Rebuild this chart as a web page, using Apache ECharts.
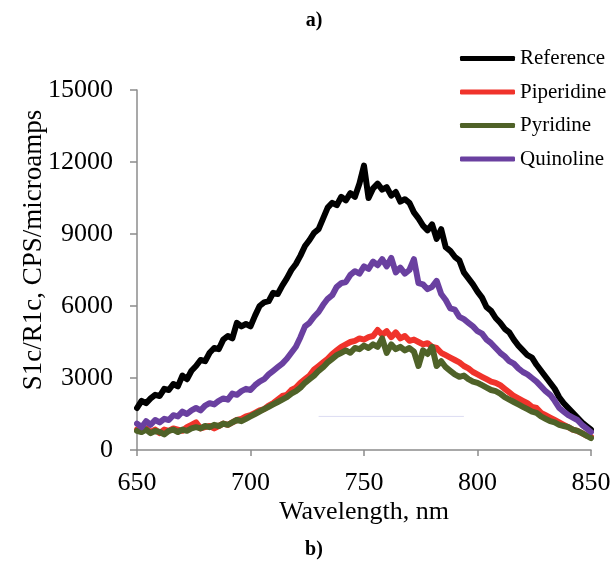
<!DOCTYPE html>
<html>
<head>
<meta charset="utf-8">
<script src="https://cdn.jsdelivr.net/npm/echarts@6/dist/echarts.min.js"></script>
<style>html,body{margin:0;padding:0;background:#fff;}#c{width:614px;height:583px;}</style>
</head>
<body>
<div id="c"></div>
<script>
var wavelengths = [650,652,654,656,658,660,662,664,666,668,670,672,674,676,678,680,682,684,686,688,690,692,694,696,698,700,702,704,706,708,710,712,714,716,718,720,722,724,726,728,730,732,734,736,738,740,742,744,746,748,750,752,754,756,758,760,762,764,766,768,770,772,774,776,778,780,782,784,786,788,790,792,794,796,798,800,802,804,806,808,810,812,814,816,818,820,822,824,826,828,830,832,834,836,838,840,842,844,846,848,850];

var reference = [1750,2050,1950,2150,2300,2250,2550,2500,2750,2650,3100,2950,3300,3500,3750,3700,4050,4250,4200,4600,4750,4650,5300,5150,5250,5150,5600,6000,6150,6200,6550,6500,6850,7150,7500,7750,8100,8500,8750,9050,9200,9650,10100,10300,10200,10550,10400,10700,10550,11100,11850,10500,10900,11100,10850,10950,10600,10750,10350,10450,10300,9900,9650,9350,9150,9400,8800,9200,8450,8300,8050,7900,7400,7150,6900,6600,6350,5950,5800,5500,5300,5050,4900,4600,4350,4150,3950,3850,3550,3300,3050,2800,2550,2200,1950,1750,1550,1350,1150,1000,850];

var piperidine = [850,800,900,750,850,700,850,800,900,850,800,950,1050,1150,900,950,1000,900,1000,1100,1050,1150,1250,1300,1400,1450,1550,1650,1700,1850,1950,2100,2250,2300,2500,2600,2800,2950,3100,3350,3500,3650,3800,4000,4150,4300,4400,4500,4550,4650,4600,4700,4750,5000,4800,4950,4700,4900,4650,4750,4550,4600,4500,4400,4450,4300,4250,4050,3950,3850,3750,3650,3500,3400,3250,3150,3050,2950,2850,2800,2700,2550,2400,2250,2150,2050,1950,1800,1750,1550,1450,1350,1250,1150,1050,950,850,800,700,600,550];

var pyridine = [800,750,850,700,800,750,650,800,850,750,850,800,900,950,900,1000,950,1050,1000,1100,1050,1150,1250,1200,1300,1400,1500,1600,1700,1800,1900,2000,2100,2200,2350,2450,2600,2800,2950,3100,3300,3450,3650,3800,3950,4050,4150,4050,4250,4200,4350,4250,4400,4300,4650,4050,4400,4200,4300,4150,4250,4100,3500,4150,4000,4300,3500,3700,3450,3300,3150,3050,3100,2950,2850,2800,2700,2600,2500,2450,2350,2200,2100,2000,1900,1800,1700,1600,1550,1400,1300,1200,1150,1050,1000,950,850,800,700,600,500];

var quinoline = [1100,950,1200,1050,1250,1150,1300,1250,1450,1400,1600,1500,1650,1750,1650,1850,1950,1900,2050,2150,2100,2350,2300,2450,2550,2500,2700,2850,2950,3150,3300,3450,3600,3800,4050,4300,4700,5150,5300,5550,5750,6050,6300,6450,6800,6950,7000,7300,7450,7350,7650,7550,7850,7700,7950,7650,8000,7400,7600,7350,7500,7950,6950,6900,6700,6800,7050,6500,6250,5900,5850,5550,5450,5300,5150,4950,4850,4600,4450,4250,4050,3900,3700,3600,3400,3250,3150,3000,2850,2650,2450,2300,2050,1750,1600,1450,1350,1250,1050,900,750];

var artifactX = [730, 794];
var artifactY = [1400, 1400];

var seriesNames = ['Reference', 'Piperidine', 'Pyridine', 'Quinoline'];
var seriesColors = ['#000000', '#f0332b', '#4f6228', '#6a40a0'];
var xTicks = [650, 700, 750, 800, 850];
var yTicks = [0, 3000, 6000, 9000, 12000, 15000];

function pairs(xs, ys) { return xs.map(function (x, i) { return [x, ys[i]]; }); }

var values = [reference, piperidine, pyridine, quinoline];
var FONT = '"Liberation Serif", "Times New Roman", serif';

var series = values.map(function (v, i) {
  return {
    name: seriesNames[i], type: 'line', data: pairs(wavelengths, v),
    showSymbol: false, symbol: 'none', smooth: false,
    lineStyle: { color: seriesColors[i], width: 6, cap: 'round', join: 'round' },
    itemStyle: { color: seriesColors[i] },
    emphasis: { disabled: true }, animation: false
  };
});
series.unshift({
  name: 'artifact', type: 'line', data: pairs(artifactX, artifactY),
  showSymbol: false, symbol: 'none', silent: true,
  lineStyle: { color: '#dcdcf2', width: 1 }, animation: false
});

var chart = echarts.init(document.getElementById('c'));
chart.setOption({
  backgroundColor: '#ffffff',
  animation: false,
  grid: { left: 137, right: 23, top: 90, bottom: 133, containLabel: false },
  xAxis: {
    type: 'value', min: xTicks[0], max: xTicks[xTicks.length - 1], interval: 50,
    axisLine: { lineStyle: { color: '#8c8c8c', width: 1.5 } },
    axisTick: { show: true, inside: false, length: 6, lineStyle: { color: '#8c8c8c', width: 1.5 } },
    axisLabel: { color: '#000', fontFamily: FONT, fontSize: 26, margin: 20, formatter: function (v) { return String(v); } },
    splitLine: { show: false }
  },
  yAxis: {
    type: 'value', min: yTicks[0], max: yTicks[yTicks.length - 1], interval: 3000,
    axisLine: { show: true, lineStyle: { color: '#8c8c8c', width: 1.5 } },
    axisTick: { show: true, inside: false, length: 7, lineStyle: { color: '#8c8c8c', width: 1.5 } },
    axisLabel: { color: '#000', fontFamily: FONT, fontSize: 26, margin: 24, formatter: function (v) { return String(v); } },
    splitLine: { show: false }
  },
  legend: {
    orient: 'vertical', left: 455, top: 43,
    data: seriesNames,
    icon: 'roundRect', itemWidth: 55, itemHeight: 5, itemGap: 12.5,
    textStyle: { color: '#000', fontFamily: FONT, fontSize: 21, lineHeight: 20, padding: [0, 0, 0, 0] },
    selectedMode: false
  },
  graphic: [
    { type: 'text', x: 314, y: 21, style: { text: 'a)', font: 'bold 20px ' + FONT, fill: '#000', align: 'center', verticalAlign: 'middle' } },
    { type: 'text', x: 364, y: 512, style: { text: 'Wavelength, nm', font: '26px ' + FONT, fill: '#000', align: 'center', verticalAlign: 'middle' } },
    { type: 'text', x: 314, y: 550, style: { text: 'b)', font: 'bold 20px ' + FONT, fill: '#000', align: 'center', verticalAlign: 'middle' } },
    { type: 'text', x: 34, y: 250, rotation: Math.PI / 2, style: { text: 'S1c/R1c, CPS/microamps', font: '27px ' + FONT, fill: '#000', align: 'center', verticalAlign: 'middle' } }
  ],
  series: series
});
</script>
</body>
</html>
